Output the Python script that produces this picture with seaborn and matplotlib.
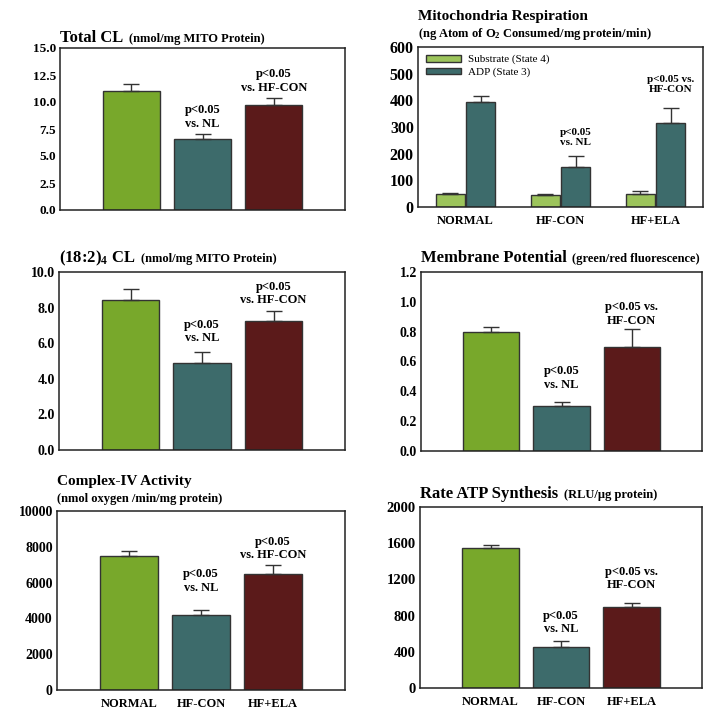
import numpy as np
import pandas as pd
import matplotlib.pyplot as plt
import seaborn as sns

# groups and colours
groups = ['NORMAL', 'HF-CON', 'HF+ELA']
bar_colors = ['#78a82b', '#3d6b6b', '#5b1a1a']
edge = '#333333'

# single-series panels (mean, +SE)
total_cl = [11.0, 6.55, 9.7]
total_cl_err = [0.7, 0.5, 0.7]

cl_182 = [8.45, 4.9, 7.25]
cl_182_err = [0.6, 0.58, 0.55]

membrane = [0.80, 0.30, 0.70]
membrane_err = [0.03, 0.03, 0.12]

complex4 = [7500, 4200, 6500]
complex4_err = [280, 250, 480]

atp = [1550, 450, 900]
atp_err = [30, 66, 40]

# respiration (two states per group)
resp_states = ['Substrate (State 4)', 'ADP (State 3)']
resp_colors = ['#9cc45b', '#3d6b6b']
resp_substrate = [48, 44, 49]
resp_substrate_err = [4, 5, 11]
resp_adp = [394, 150, 314]
resp_adp_err = [22, 40, 58]

sns.set_theme(style='white')
plt.rcParams['font.family'] = ['Liberation Serif', 'DejaVu Serif']
plt.rcParams['font.weight'] = 'bold'
plt.rcParams['text.color'] = 'black'
plt.rcParams['xtick.color'] = 'black'
plt.rcParams['ytick.color'] = 'black'
plt.rcParams['mathtext.fontset'] = 'custom'
plt.rcParams['mathtext.rm'] = 'Liberation Serif:bold'
plt.rcParams['mathtext.bf'] = 'Liberation Serif:bold'
plt.rcParams['mathtext.it'] = 'Liberation Serif:bold:italic'

fig = plt.figure(figsize=(7.14, 7.28), dpi=100)
W, H = 714, 728


def px_axes(left, top, right, bottom):
    return fig.add_axes([left / W, 1 - bottom / H, (right - left) / W, (bottom - top) / H])


def style_axes(ax, yticks, fmt, tick_size, show_x):
    ax.set_ylim(yticks[0], yticks[-1])
    ax.set_yticks(yticks)
    ax.set_yticklabels([fmt.format(t) for t in yticks], fontsize=tick_size, fontweight='bold')
    ax.tick_params(axis='y', direction='in', length=4, width=1, color='black', pad=3)
    ax.tick_params(axis='x', length=0, pad=6)
    if show_x:
        ax.set_xticklabels(groups, fontsize=9, fontweight='bold')
    else:
        ax.set_xticklabels([])
    ax.set_xlabel('')
    ax.set_ylabel('')
    for s in ax.spines.values():
        s.set_visible(True)
        s.set_color('#222222')
        s.set_linewidth(1.1)


def add_title(ax, big, small, dy, big_size=12, small_size=9):
    t = ax.annotate(big, xy=(0, 1), xycoords='axes fraction', xytext=(0, dy),
                    textcoords='offset points', ha='left', va='baseline',
                    fontsize=big_size, fontweight='bold')
    if small:
        ax.annotate(small, xy=(1, 1), xycoords=(t, 'axes fraction'), xytext=(4, dy),
                    textcoords='offset points', ha='left', va='baseline',
                    fontsize=small_size, fontweight='bold')


def add_notes(ax, xs, tops, notes, size=9):
    for i, text, off in notes:
        ax.annotate(text, xy=(xs[i], tops[i]), xytext=(0, off), textcoords='offset points',
                    ha='center', va='bottom', fontsize=size, fontweight='bold', linespacing=1.15)


def draw_single(ax, values, errs):
    df = pd.DataFrame({'group': groups, 'value': values})
    sns.barplot(data=df, x='group', y='value', hue='group', order=groups, hue_order=groups,
                palette=bar_colors, saturation=1, width=0.8, edgecolor=edge, linewidth=1,
                errorbar=None, legend=False, ax=ax)
    xs = np.arange(len(groups))
    ax.errorbar(xs, values, yerr=[np.zeros(len(values)), errs], fmt='none',
                ecolor=edge, elinewidth=1, capsize=5.5, capthick=1, zorder=1)
    ax.set_xlim(-1, 3)
    return xs, np.array(values) + np.array(errs)


# Total CL
ax1 = px_axes(60, 48, 345, 210)
xs, tops = draw_single(ax1, total_cl, total_cl_err)
style_axes(ax1, np.arange(0, 15.1, 2.5), '{:.1f}', 9.5, False)
add_title(ax1, 'Total CL', '(nmol/mg MITO Protein)', 4.5)
add_notes(ax1, xs, tops, [(1, 'p<0.05\nvs. NL', 3), (2, 'p<0.05\nvs. HF-CON', 3)])

# Mitochondria respiration
ax2 = px_axes(418, 47, 703, 207)
resp_df = pd.DataFrame({
    'group': groups * 2,
    'state': [resp_states[0]] * 3 + [resp_states[1]] * 3,
    'value': resp_substrate + resp_adp,
})
sns.barplot(data=resp_df, x='group', y='value', hue='state', order=groups, hue_order=resp_states,
            palette=resp_colors, saturation=1, width=0.64, gap=0.05, edgecolor=edge, linewidth=1,
            errorbar=None, ax=ax2)
resp_vals = [resp_substrate, resp_adp]
resp_errs = [resp_substrate_err, resp_adp_err]
adp_x = []
for cont, vals, errs in zip(ax2.containers, resp_vals, resp_errs):
    cx = [b.get_x() + b.get_width() / 2 for b in cont]
    ax2.errorbar(cx, vals, yerr=[np.zeros(len(vals)), errs], fmt='none',
                 ecolor=edge, elinewidth=1, capsize=5.5, capthick=1, zorder=1)
    adp_x = cx
ax2.set_xlim(-0.5, 2.5)
style_axes(ax2, np.arange(0, 601, 100), '{:.0f}', 11.5, True)
ax2.legend(loc='upper left', frameon=False, handlelength=3.2, handleheight=0.55,
           labelspacing=0.3, borderaxespad=0.3, handletextpad=0.6,
           prop={'family': 'Liberation Serif', 'weight': 'normal', 'size': 8})
add_title(ax2, 'Mitochondria Respiration', None, 19.5, big_size=11)
add_title(ax2, '(ng Atom of O$_2$ Consumed/mg protein/min)', None, 7, big_size=9)
adp_tops = np.array(resp_adp) + np.array(resp_adp_err)
add_notes(ax2, adp_x, adp_tops, [(1, 'p<0.05\nvs. NL', 7), (2, 'p<0.05 vs.\nHF-CON', 10)], size=8)

# (18:2)4 CL
ax3 = px_axes(59, 272, 345, 450)
xs, tops = draw_single(ax3, cl_182, cl_182_err)
style_axes(ax3, np.arange(0, 10.1, 2.0), '{:.1f}', 10, False)
add_title(ax3, '(18:2)$_4$ CL', '(nmol/mg MITO Protein)', 7)
add_notes(ax3, xs, tops, [(1, 'p<0.05\nvs. NL', 6), (2, 'p<0.05\nvs. HF-CON', 3.5)])

# Membrane potential
ax4 = px_axes(421, 272, 702, 451)
xs, tops = draw_single(ax4, membrane, membrane_err)
style_axes(ax4, np.round(np.arange(0, 1.21, 0.2), 1), '{:.1f}', 10, False)
add_title(ax4, 'Membrane Potential', '(green/red fluorescence)', 7)
add_notes(ax4, xs, tops, [(1, 'p<0.05\nvs. NL', 8), (2, 'p<0.05 vs.\nHF-CON', 1.5)])

# Complex-IV activity
ax5 = px_axes(57, 511, 345, 690)
xs, tops = draw_single(ax5, complex4, complex4_err)
style_axes(ax5, np.arange(0, 10001, 2000), '{:.0f}', 10, True)
add_title(ax5, 'Complex-IV Activity', None, 18.5, big_size=11)
add_title(ax5, '(nmol oxygen /min/mg protein)', None, 6.5, big_size=9)
add_notes(ax5, xs, tops, [(1, 'p<0.05\nvs. NL', 12), (2, 'p<0.05\nvs. HF-CON', 3)])

# Rate ATP synthesis
ax6 = px_axes(420, 507, 702, 688)
xs, tops = draw_single(ax6, atp, atp_err)
style_axes(ax6, np.arange(0, 2001, 400), '{:.0f}', 10.5, True)
add_title(ax6, 'Rate ATP Synthesis', '(RLU/μg protein)', 6.5)
add_notes(ax6, xs, tops, [(1, 'p<0.05\nvs. NL', 4.5), (2, 'p<0.05 vs.\nHF-CON', 8.5)])

fig.savefig('out.png', dpi=100)
